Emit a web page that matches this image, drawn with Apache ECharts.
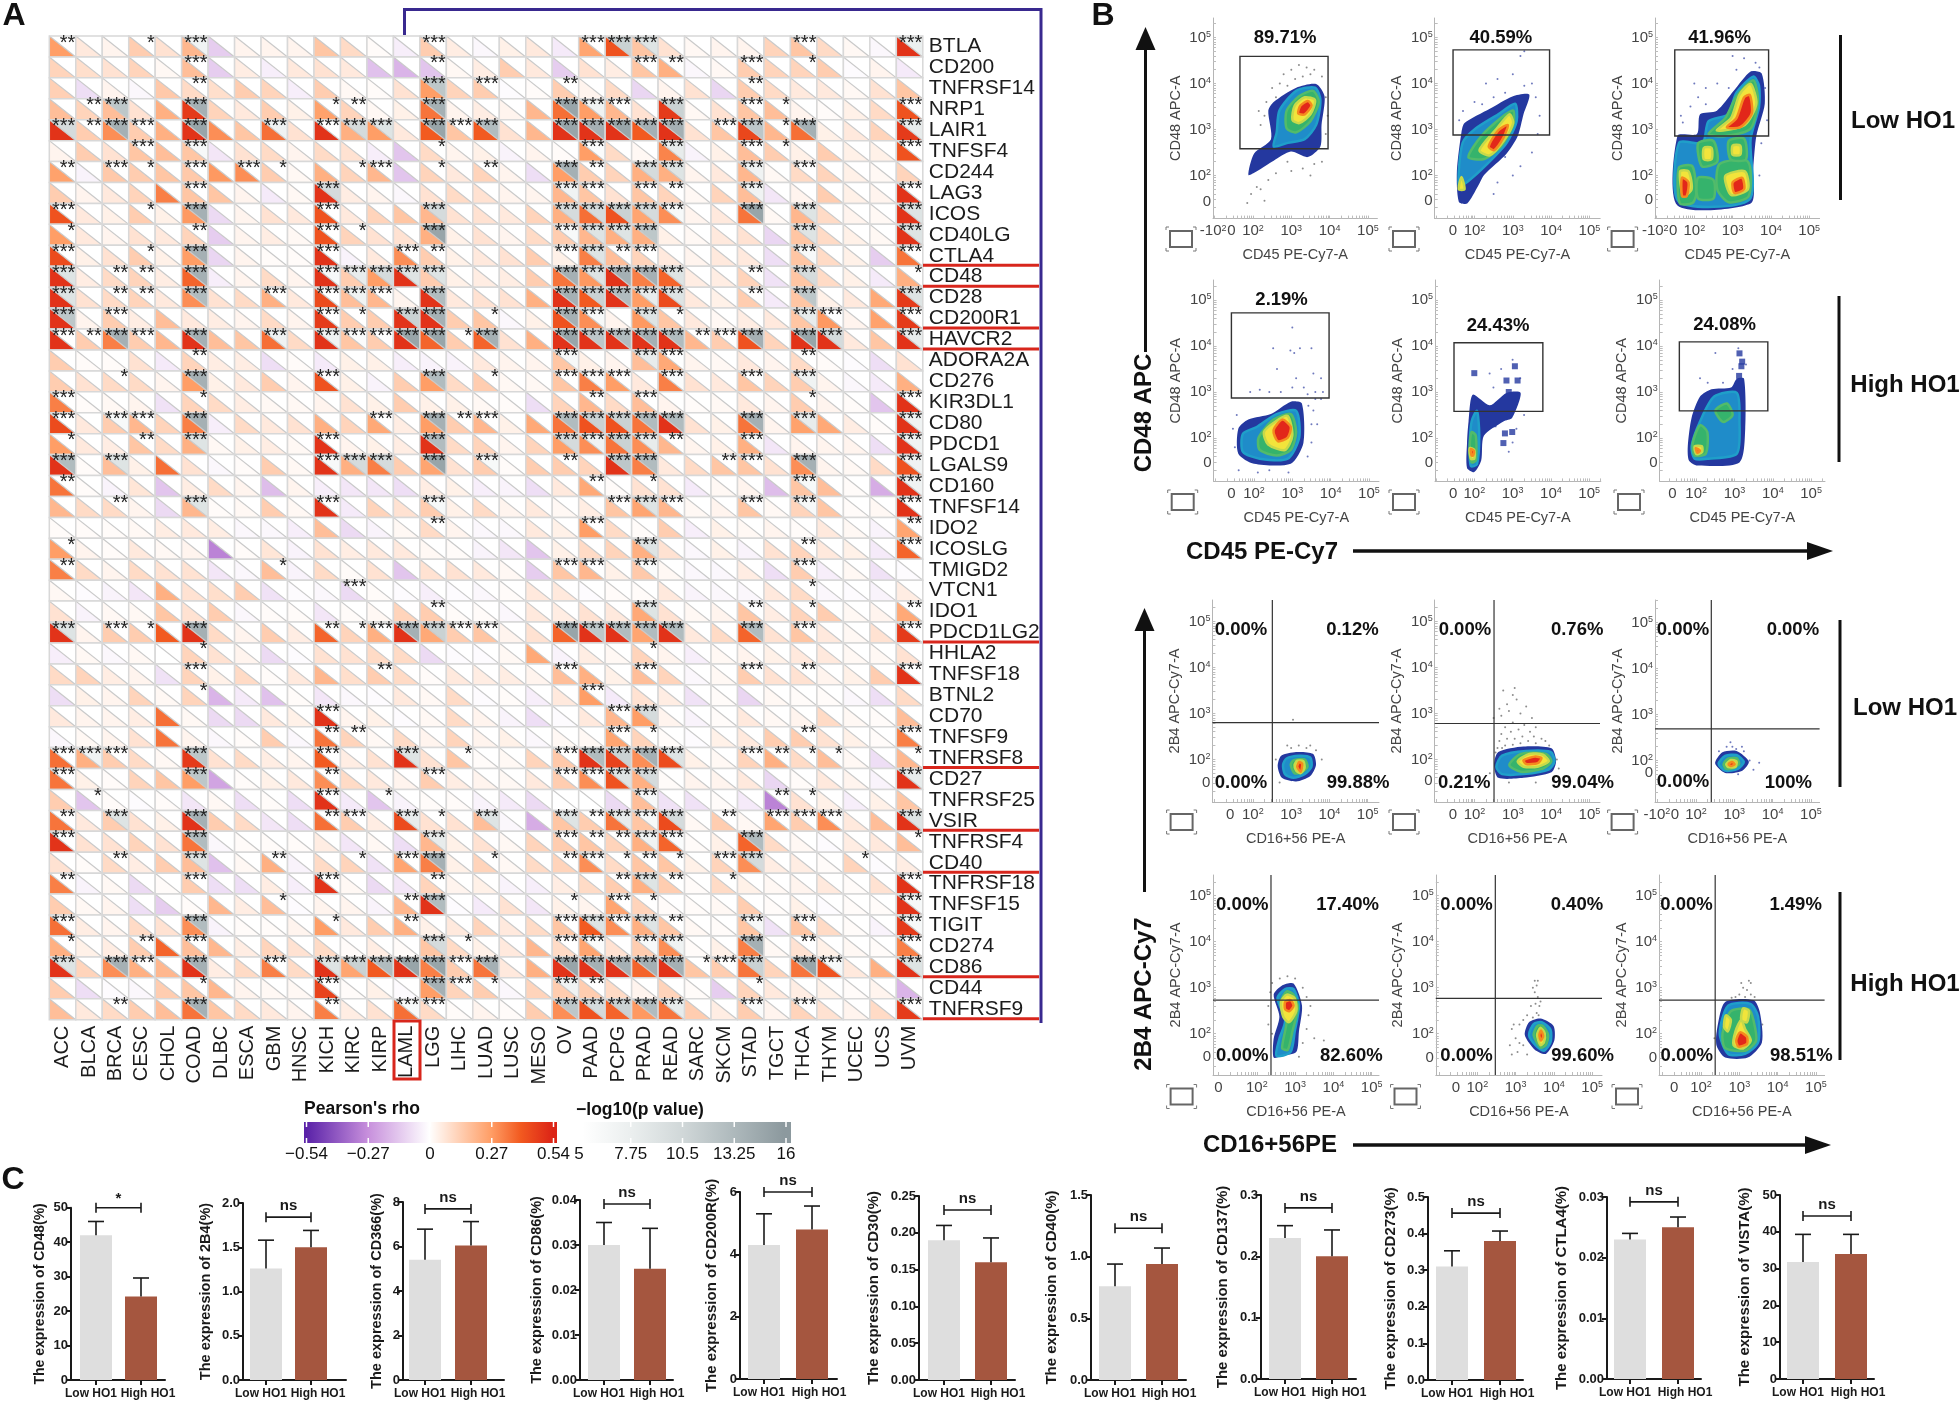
<!DOCTYPE html>
<html><head><meta charset="utf-8">
<style>html,body{margin:0;padding:0;background:#fff}#c{width:1960px;height:1403px}</style>
<script src="https://cdn.jsdelivr.net/npm/echarts@6/dist/echarts.min.js"></script>
</head><body><div id="c"></div>
<script>
/* ---------- Panel A data ---------- */
const tumours=['ACC','BLCA','BRCA','CESC','CHOL','COAD','DLBC','ESCA','GBM','HNSC','KICH','KIRC','KIRP','LAML','LGG','LIHC','LUAD','LUSC','MESO','OV','PAAD','PCPG','PRAD','READ','SARC','SKCM','STAD','TGCT','THCA','THYM','UCEC','UCS','UVM'];
const genes=['BTLA','CD200','TNFRSF14','NRP1','LAIR1','TNFSF4','CD244','LAG3','ICOS','CD40LG','CTLA4','CD48','CD28','CD200R1','HAVCR2','ADORA2A','CD276','KIR3DL1','CD80','PDCD1','LGALS9','CD160','TNFSF14','IDO2','ICOSLG','TMIGD2','VTCN1','IDO1','PDCD1LG2','HHLA2','TNFSF18','BTNL2','CD70','TNFSF9','TNFRSF8','CD27','TNFRSF25','VSIR','TNFRSF4','CD40','TNFRSF18','TNFSF15','TIGIT','CD274','CD86','CD44','TNFRSF9'];
// Pearson's rho x100, one row per gene
const rhoRows=[
[27,6,3,14,8,20,-12,3,3,3,16,10,1,-4,14,5,-2,4,6,-5,25,42,16,8,2,3,3,12,16,10,2,-2,50],
[12,9,8,12,2,18,-12,5,-4,6,8,6,-15,-18,-14,2,5,14,6,-12,8,5,16,22,-2,2,14,12,12,14,-1,3,-5],
[13,-8,3,-2,15,10,9,14,12,-4,14,2,1,8,27,12,14,-1,1,14,3,10,-10,3,8,-10,14,10,6,6,2,8,16],
[18,12,18,8,22,48,12,6,14,4,26,12,2,4,35,3,5,3,20,36,27,20,8,48,2,8,16,18,3,1,4,10,42],
[50,14,30,14,22,50,30,16,36,8,50,22,27,6,40,16,40,8,20,50,50,50,40,50,8,16,45,20,36,4,6,12,48],
[3,14,8,16,18,16,-6,8,10,3,10,8,-4,-14,10,3,4,-3,3,1,27,10,2,32,-3,4,18,14,4,14,4,4,42],
[26,-3,15,14,16,15,28,30,14,2,22,12,20,-14,12,6,12,3,-8,27,14,12,22,22,3,6,20,2,10,12,4,2,12],
[14,3,6,12,33,16,16,3,-5,2,50,5,3,-2,8,10,8,3,3,20,16,8,16,12,2,12,18,-6,3,14,4,3,50],
[42,6,4,14,4,28,-9,3,8,6,42,6,12,16,20,8,8,6,12,22,36,42,25,30,3,6,35,2,20,10,3,2,50],
[27,6,3,8,6,12,-12,3,5,2,42,12,8,8,22,4,8,3,10,14,20,22,22,4,2,6,8,-10,16,10,4,2,50],
[44,4,8,14,4,27,-10,3,1,1,50,-3,6,30,14,4,6,8,14,4,33,18,12,6,3,6,6,-8,16,10,4,-12,35],
[50,5,10,12,5,38,-4,3,10,3,50,14,27,50,14,4,5,5,14,35,28,50,33,38,5,5,12,-7,16,10,4,-5,22],
[50,8,10,12,6,30,8,10,22,6,44,18,20,3,50,6,8,8,22,50,40,50,27,44,6,4,14,-5,16,4,6,24,48],
[50,3,14,5,18,6,5,3,10,3,48,14,14,50,50,14,16,-2,4,42,30,3,28,16,6,2,5,6,16,28,3,26,48],
[50,14,33,14,20,50,18,16,36,10,50,16,14,50,38,14,38,8,22,50,50,50,50,50,20,14,42,12,50,50,6,16,50],
[14,1,1,8,-5,12,5,5,-8,1,-5,4,4,-4,-3,-3,6,3,3,16,4,3,18,24,3,2,6,3,10,1,-1,-8,8],
[14,8,10,10,3,27,4,6,14,3,42,4,-3,14,27,10,14,2,2,16,33,27,6,33,8,6,16,12,14,3,-2,-5,22],
[33,1,2,3,-7,12,10,5,2,2,3,8,4,14,4,4,2,1,-8,12,20,10,18,3,1,2,6,3,14,3,1,-14,50],
[44,6,14,20,12,33,-4,10,6,8,22,12,24,5,27,14,20,4,24,35,42,42,35,50,8,4,35,3,26,24,5,1,50],
[27,6,5,16,10,22,2,4,5,2,50,3,4,5,50,10,12,3,12,27,30,35,30,20,3,4,22,-6,3,3,3,-8,50],
[50,1,18,4,36,8,-2,1,14,2,50,22,33,14,25,8,14,1,14,14,12,50,33,6,10,16,16,8,30,3,2,10,42],
[35,1,-3,7,-14,5,10,3,-16,3,-4,-6,-6,-8,5,4,-4,-3,-8,6,24,1,8,8,-5,2,3,-16,16,18,1,-20,50],
[20,10,10,3,-9,20,1,2,14,2,50,-5,12,8,14,4,10,3,6,2,5,16,25,20,2,3,16,2,12,16,1,2,50],
[1,1,1,2,5,6,5,-2,-2,-4,18,-9,-3,2,10,3,-2,-2,6,4,27,10,1,14,-4,4,2,3,1,6,2,-3,25],
[27,3,1,6,2,3,-30,1,7,-3,8,5,6,6,2,1,-3,-6,-14,4,10,12,22,8,-2,4,-3,8,12,6,4,-5,38],
[33,10,3,10,8,8,-6,-2,18,-3,10,1,8,-14,8,8,6,2,-12,16,20,4,15,2,-2,-2,5,-8,14,-4,2,-7,-1],
[2,-1,-3,-6,22,8,9,14,-7,-1,-2,-9,1,-1,-4,-1,-2,1,6,6,-1,1,1,6,-3,-2,-2,6,10,-2,-1,-3,5],
[8,-3,2,2,16,8,14,-2,1,1,-6,1,2,12,14,1,1,-2,6,5,8,6,24,8,2,3,16,5,12,14,2,3,24],
[50,3,14,14,40,50,10,3,14,5,38,12,22,50,24,14,16,3,8,38,50,50,25,50,6,10,38,8,16,6,2,8,48],
[-4,2,-2,2,0,12,8,3,-9,-1,8,8,10,10,-9,-1,-1,2,24,-3,5,2,12,3,-4,2,3,4,6,6,2,2,8],
[10,12,5,3,-7,12,4,10,1,6,20,9,14,10,1,6,5,5,3,18,22,4,18,12,-2,2,14,8,8,3,4,14,50],
[-8,4,3,12,2,12,-18,-5,-15,1,-6,-2,-1,6,2,10,-1,1,-4,6,27,-5,8,5,-7,1,-10,2,1,1,-2,-8,10],
[6,3,3,5,36,2,-9,-9,6,4,50,3,4,-1,2,10,3,-3,-8,-1,6,20,27,3,-3,1,6,2,3,10,2,1,18],
[-2,2,3,8,35,3,-2,1,14,-2,35,12,2,10,3,12,3,4,-2,2,2,25,12,1,-1,4,6,14,14,8,4,1,33],
[36,22,14,10,2,48,8,10,5,3,40,5,8,50,8,16,1,2,12,15,50,46,30,44,4,2,12,22,10,18,2,-8,20],
[35,4,1,12,16,27,-22,1,4,6,30,10,6,3,14,5,3,2,6,14,30,42,22,1,3,3,6,-10,1,6,3,-3,50],
[14,-14,1,-1,1,-6,2,-8,1,-8,50,-5,-14,-3,1,1,-3,-5,-9,0,0,-9,18,-7,-7,1,-5,-30,8,4,-4,4,16],
[35,6,14,8,4,50,14,10,-6,-8,36,14,5,44,8,8,18,-2,-20,16,14,35,16,44,2,14,2,25,14,30,6,18,50],
[50,8,8,12,8,35,-2,1,1,1,5,-6,2,-8,20,4,8,2,12,14,16,12,22,38,1,4,38,10,2,-1,5,6,18],
[8,1,10,5,14,18,-15,2,22,-3,10,12,-7,25,33,4,12,2,10,12,30,10,16,16,4,12,30,5,5,1,12,-1,5],
[33,-3,2,-9,1,14,-8,-8,5,-4,50,2,-9,-6,12,3,4,-3,-4,5,10,14,22,14,1,10,4,2,3,6,1,8,50],
[14,2,3,-8,-12,1,20,5,18,-1,3,3,-3,20,50,-1,-5,8,-6,4,3,25,12,1,1,2,14,1,4,-1,1,1,50],
[36,5,3,10,8,30,-3,1,1,3,27,6,14,22,4,6,12,6,10,16,40,30,22,16,2,1,16,-7,16,10,1,-3,48],
[22,4,5,14,38,18,20,5,12,8,10,1,5,1,16,10,4,6,20,10,25,8,14,30,1,4,33,2,8,4,2,1,33],
[50,12,30,22,20,50,5,10,33,10,50,25,40,50,33,14,35,6,22,50,50,50,38,50,16,14,35,12,35,42,6,22,50],
[14,-8,-1,-2,14,16,20,3,2,2,46,1,4,-1,27,12,14,-2,12,14,14,10,3,12,1,-12,12,6,5,4,1,3,-18],
[18,6,10,14,18,35,16,10,6,3,33,5,8,36,10,1,3,1,14,30,42,38,28,35,14,5,14,3,12,8,3,10,48]
];
// -log10(p): column index -> value, only where p<0.05
const logPRows=[
{0:2,3:1.5,5:7,14:4,20:3,21:11,22:9,28:3,32:7.5},
{5:3,14:2,22:3,23:2,26:3,28:1.5},
{5:2,14:12,16:3,19:2,26:2},
{1:2,2:12,5:14,10:1.5,11:2,14:14,19:15,20:7,21:3,23:11,26:3,27:1.5,32:3},
{0:10,1:2,2:14,3:3,5:15,8:7,10:4,11:10,12:9,14:15,15:3,16:13,19:15,20:14,21:15,22:14,23:14,25:3,26:12,27:1.5,28:14,32:8},
{3:3,5:6,14:1.5,20:5.5,23:8,26:3,27:1.5,32:3},
{0:2,2:3,3:1.5,5:5,7:3,8:1.5,11:1.5,12:3,14:1.5,16:2,19:14,20:2,22:10,23:9,26:7,28:3},
{5:3,10:10,19:7,20:3,22:3,23:2,26:7,32:3},
{0:3,3:1.5,5:14,10:3,14:10,19:10,20:10,21:11,22:10,23:6,26:15,28:9,32:9},
{0:1.5,5:2,10:3,11:1.5,14:15,19:6,20:9,21:9,22:12,28:9,32:9},
{0:3,3:1.5,5:14,10:3,13:3,14:2,19:4,20:9,21:2,22:5,28:6,32:3},
{0:9,2:2,3:2,5:14,10:6,11:8,12:10,13:9,14:9,19:14,20:9,21:14,22:14,23:9,26:2,28:10,32:1.5},
{0:9,2:2,3:2,5:13,8:3,10:5,11:7,12:3,14:13,19:14,20:11,21:13,22:8,23:9,26:2,28:12,32:9},
{0:12,2:3,10:3,11:1.5,13:11,14:14,16:1.5,19:14,20:6,22:9,23:1.5,28:8,29:3,32:5},
{0:5,1:2,2:14,3:3,5:14,8:7,10:7,11:5.5,12:4,13:15,14:15,15:1.5,16:14,19:15,20:12,21:13,22:14,23:13,24:2,25:3,26:14,28:15,29:10,32:8},
{5:2,19:6,22:8,23:3,28:2},
{2:1.5,5:14,10:3,14:13,16:1.5,19:3,20:5.5,21:3,23:5.5,26:3,28:7},
{0:3,5:1.5,20:2,22:3,28:1.5,32:5},
{0:3,2:6,3:3,5:14,12:3,14:14,15:2,16:3,19:13,20:11,21:11,22:13,23:13,26:14,28:8,32:7},
{0:1.5,3:2,5:9,10:5,14:13,19:10,20:7,21:11,22:8,23:2,26:5.5,32:7},
{0:13,2:9,10:6,11:10,12:10,14:15,16:6,19:2,21:12,22:13,25:2,26:3,28:14,32:7},
{0:2,20:2,22:1.5,28:6,32:7},
{2:2,5:9,10:3,14:6,21:3,22:9,23:3,26:5,28:6,32:5},
{14:2,20:3,32:2},
{0:1.5,22:9,28:2,32:3},
{0:2,8:1.5,19:3,20:3,22:5.5,28:3},
{11:3,28:1.5},
{14:2,22:9,26:2,28:1.5,32:2},
{0:9,2:3,3:1.5,5:14,10:2,11:1.5,12:3,13:14,14:11,15:3,16:4,19:15,20:12,21:13,22:13,23:13,26:13,28:3,32:5},
{5:1.5,22:1.5},
{5:3,12:2,19:3,22:3,26:3,28:2,32:5},
{5:1.5,20:3},
{10:3,21:3,22:10},
{10:2,11:2,21:3,22:1.5,28:2,32:3},
{0:3,1:7,2:3,5:12,10:3,13:9,15:1.5,19:3,20:13,21:11,22:14,23:9,26:3,27:2,28:1.5,29:1.5,32:1.5},
{0:3,5:12,10:2,14:4,19:3,20:5.5,21:9,22:10,32:8},
{1:1.5,10:3,12:1.5,22:6,27:2,28:1.5},
{0:2,2:9,5:14,10:2,11:3,13:8,14:1.5,16:9,19:9,20:2,21:8,22:6,23:10,25:2,27:3,28:3,29:3,32:9},
{0:3,5:13,14:8,19:3,20:2,21:2,22:7,23:5.5,26:13,32:1.5},
{2:2,5:9,8:2,11:1.5,13:3,14:14,16:1.5,19:2,20:5.5,21:1.5,22:2,23:1.5,25:3,26:10,30:1.5},
{0:2,5:3,10:5,14:2,21:2,22:9,23:2,25:1.5,32:5},
{8:1.5,13:2,14:13,19:1.5,21:3,22:1.5,32:6},
{0:3,5:13,10:1.5,13:2,19:3,20:9,21:4,22:9,23:2,26:6,28:3,32:6},
{0:1.5,3:2,5:5,14:10,15:1.5,19:3,20:5.5,22:6,23:7,26:14,28:2,32:3},
{0:9,2:14,3:3,5:14,8:3,10:9,11:11,12:13,13:15,14:15,15:3,16:14,19:15,20:14,21:14,22:14,23:14,24:1.5,25:3,26:11,28:15,29:6,32:9},
{5:1.5,10:3,14:14,15:3,16:1.5,19:7,20:2,26:1.5},
{2:2,5:14,10:2,13:6,14:3,19:12,20:10,21:11,22:13,23:8,26:5.5,28:4,32:3}
];
const highlightedRowEdges=[11,12,14,15,29,35,38,40,45,47];
const rhoTicks=[-0.54,-0.27,0,0.27,0.54];
const pTicks=[5,7.75,10.5,13.25,16];

/* ---------- Panel B data (axis units: decades of fluorescence) ---------- */
const bXTitle=['CD45 PE-Cy7-A','CD16+56 PE-A'];
const bYTitle=['CD48 APC-A','2B4 APC-Cy7-A'];
const bXZero=[1.44,1.44,1.45,1.41,1.45,1.38,1.41,1.44,1.45,1.0,1.44,1.3];
const bXNeg=[0.96,null,0.98,null,0.97,1.05,null,null,0.98,null,null,null];
const bYZero=[1.42,1.45,1.46,1.47,1.45,1.45,1.49,1.53,1.74,1.49,1.48,1.47];
const bYNeg=[null,null,null,null,null,null,null,null,1.46,null,null,null];
const bXMin=[0.956,0.961,0.974,0.945,0.974,1.047,0.945,0.961,0.93,0.856,0.916,0.903];
const bYMax=[5.424,5.424,5.424,5.435,5.435,5.435,5.465,5.465,5.49,5.45,5.45,5.45];
const gateBoxes=[[1.66,3.96,2.58,4.59],[1.44,3.96,2.88,4.73],[1.49,3.94,2.86,4.73],[1.41,3.96,2.87,4.72],[1.47,3.79,2.58,4.07],[1.56,3.87,2.59,4.09]];
const quadrantCross=[[2.51,2.80],[2.51,2.78],[2.40,2.69],[2.37,2.73],[2.47,2.77],[2.37,2.73]];
const percentLabels=[
[[2.84,5,'89.71%']],[[2.69,5,'40.59%']],[[2.66,5,'41.96%']],
[[2.72,5,'2.19%']],[[2.62,4.43,'24.43%']],[[2.74,4.45,'24.08%']],
[[1.69,4.81,'0.00%'],[4.6,4.81,'0.12%'],[1.69,1.49,'0.00%'],[4.75,1.49,'99.88%']],
[[1.75,4.81,'0.00%'],[4.68,4.81,'0.76%'],[1.73,1.49,'0.21%'],[4.82,1.49,'99.04%']],
[[1.66,4.84,'0.00%'],[4.53,4.84,'0.00%'],[1.66,1.53,'0.00%'],[4.41,1.52,'100%']],
[[1.62,4.81,'0.00%'],[4.37,4.81,'17.40%'],[1.62,1.51,'0.00%'],[4.47,1.51,'82.60%']],
[[1.72,4.81,'0.00%'],[4.6,4.81,'0.40%'],[1.72,1.51,'0.00%'],[4.75,1.51,'99.60%']],
[[1.62,4.81,'0.00%'],[4.47,4.81,'1.49%'],[1.63,1.51,'0.00%'],[4.62,1.51,'98.51%']]
];
// density contours: [level, [x,y, x,y, ...]]
const blobP1=[[0,[1.88,2.01,2.03,2.48,2.47,2.79,2.40,3.41,2.54,3.60,3.13,3.91,3.65,3.99,3.87,3.72,3.79,3.10,3.76,2.63,3.43,2.40,2.99,2.52,2.54,2.32,2.1,2.09]],[1,[2.54,2.63,2.62,2.94,2.69,3.41,3.13,3.84,3.62,3.91,3.76,3.64,3.65,3.10,3.35,2.79,2.91,2.71]],[2,[2.88,3.02,2.88,3.41,3.21,3.73,3.57,3.84,3.72,3.60,3.5,3.18,3.13,2.94]],[3,[3.03,3.21,3.09,3.52,3.35,3.70,3.62,3.64,3.5,3.33,3.21,3.14]],[4,[3.18,3.35,3.24,3.52,3.43,3.62,3.53,3.52,3.35,3.33]]];
const blobP2=[[0,[1.59,1.43,1.54,2.09,1.66,2.94,1.74,3.14,2.40,3.45,2.99,3.72,3.43,3.76,3.28,3.33,3.13,2.86,2.84,2.48,2.25,2.01,2.10,1.78,1.81,1.39]],[1,[1.59,1.78,1.69,2.71,2.03,3.02,2.62,3.33,3.06,3.56,3.10,3.18,2.84,2.71,2.32,2.24,1.81,1.86]],[2,[1.84,2.40,2.18,2.86,2.69,3.25,3.01,3.41,3.01,3.10,2.69,2.63,2.25,2.36]],[3,[2.13,2.55,2.54,2.98,2.91,3.33,3.01,3.14,2.76,2.75,2.40,2.44]],[3,[1.59,1.70,1.66,1.97,1.74,1.70]],[4,[2.37,2.63,2.62,2.98,2.87,3.10,2.76,2.83,2.51,2.55]]];
const blobP3=[[0,[1.56,1.35,1.56,2.86,2.07,2.90,2.15,3.33,2.59,3.41,3.03,3.84,3.47,4.26,3.76,4.22,3.84,3.56,3.62,2.86,3.54,2.17,3.47,1.39]],[1,[1.60,1.43,1.60,2.71,2.22,2.71,2.37,3.18,2.88,3.33,3.10,3.80,3.54,4.15,3.69,3.95,3.69,3.49,3.47,2.79,3.43,1.47]],[2,[1.6,2.17,1.95,2.2,2.05,1.6,1.95,1.4,1.62,1.4]],[2,[2.66,2.25,3.4,2.3,3.42,1.55,2.9,1.42,2.6,1.7]],[2,[2.37,2.90,2.81,3.25,3.10,3.72,3.54,4.07,3.66,3.64,3.47,3.02,2.81,2.86]],[2,[2.1,2.7,2.5,2.75,2.6,2.3,2.2,2.2]],[2,[2.9,2.75,3.3,2.8,3.35,2.35,2.95,2.35]],[2,[2.1,1.95,2.5,1.9,2.5,1.5,2.1,1.5]],[3,[1.63,2.09,1.85,2.09,1.93,1.70,1.71,1.55]],[3,[2.81,1.99,3.32,2.09,3.40,1.70,2.96,1.58]],[3,[2.59,2.98,2.96,3.25,3.18,3.76,3.47,3.99,3.62,3.56,3.32,3.10]],[3,[2.25,2.6,2.45,2.6,2.45,2.35,2.25,2.35]],[3,[3.0,2.65,3.2,2.65,3.2,2.45,3.0,2.45]],[4,[1.68,1.95,1.85,1.85,1.8,1.55,1.68,1.55]],[4,[3.0,1.85,3.25,1.95,3.3,1.7,3.05,1.62]],[4,[2.85,3.05,3.1,3.25,3.3,3.7,3.45,3.75,3.5,3.35,3.2,3.05]]];
const blobP4=[[0,[1.59,2.20,1.59,1.66,2.0,1.44,2.96,1.44,3.29,1.89,3.25,2.75,2.96,2.79,2.44,2.52,1.85,2.40]],[1,[1.71,2.09,1.71,1.70,2.15,1.55,2.88,1.55,3.18,2.01,3.10,2.59,2.59,2.52,2.07,2.24]],[2,[2.12,2.01,2.15,1.74,2.59,1.62,2.96,1.74,3.10,2.13,2.96,2.52,2.51,2.40]],[3,[2.26,2.13,2.37,1.86,2.81,1.74,3.0,2.05,2.88,2.48,2.56,2.36]],[4,[2.51,2.17,2.62,1.93,2.88,2.01,2.96,2.24,2.74,2.40]]];
const blobP5=[[0,[1.81,1.89,1.81,1.35,2.0,1.26,2.18,1.51,2.25,2.05,2.76,2.36,2.99,2.44,3.21,2.98,2.84,2.98,2.40,2.71,1.96,2.94,1.85,2.36]],[1,[1.88,1.81,1.91,1.39,2.07,1.43,2.13,2.05,2.07,2.59,1.93,2.36]],[2,[1.88,1.74,1.93,1.47,2.04,1.51,2.04,2.05,1.93,2.13]],[3,[1.88,1.78,2.0,1.74,2.0,1.55,1.91,1.55]],[4,[1.91,1.76,1.99,1.72,1.97,1.62,1.93,1.62]]];
const blobP6=[[0,[1.78,1.82,1.81,1.51,2.03,1.40,3.13,1.47,3.28,2.20,3.25,3.29,3.06,3.29,2.91,3.10,2.40,3.06,2.10,2.90,1.88,2.44]],[1,[1.88,1.82,1.96,1.55,2.32,1.55,3.06,1.66,3.13,2.36,3.06,2.98,2.47,2.90,2.10,2.36]],[2,[1.91,1.89,1.96,1.62,2.25,1.66,2.29,2.13,2.10,2.28]],[2,[2.5,2.6,2.8,2.75,2.95,2.5,2.7,2.35]],[3,[1.96,1.82,2.0,1.65,2.15,1.69,2.15,1.82]],[4,[1.99,1.78,2.03,1.68,2.10,1.72]]];
const blobP7=[[0,[2.65,1.85,2.74,2.08,3.13,2.16,3.57,2.12,3.65,1.88,3.5,1.64,3.13,1.52,2.76,1.60]],[1,[2.79,1.88,2.88,2.02,3.21,2.08,3.5,2.04,3.53,1.84,3.35,1.68,3.06,1.60,2.84,1.68]],[2,[2.99,1.88,3.06,1.98,3.35,2.0,3.43,1.84,3.28,1.72,3.09,1.70]],[3,[3.09,1.88,3.16,1.97,3.32,1.96,3.35,1.81,3.24,1.70,3.13,1.76]],[4,[3.16,1.84,3.21,1.94,3.29,1.90,3.25,1.73]]];
const blobP8=[[0,[2.51,1.88,2.62,2.16,3.28,2.28,4.01,2.24,4.13,1.96,4.01,1.72,3.28,1.60,2.62,1.60]],[1,[2.57,1.84,2.72,2.08,3.35,2.18,3.99,2.16,4.09,1.96,3.94,1.78,3.28,1.68,2.72,1.68]],[2,[2.91,1.88,3.21,2.12,3.87,2.12,4.01,1.96,3.79,1.80,3.21,1.73]],[3,[3.13,1.96,3.43,2.12,3.79,2.10,3.94,1.96,3.65,1.84,3.28,1.84]],[4,[3.28,1.98,3.57,2.06,3.75,2.03,3.65,1.92,3.35,1.90]]];
const blobP9=[[0,[2.50,1.94,2.69,2.18,3.06,2.21,3.38,1.98,3.21,1.78,2.76,1.73]],[1,[2.59,1.93,2.76,2.10,3.06,2.12,3.25,1.97,3.09,1.82,2.76,1.78]],[2,[2.72,1.92,2.84,2.04,3.06,2.05,3.13,1.93,2.99,1.84,2.79,1.82]],[3,[2.79,1.92,2.91,2.01,3.06,1.98,3.03,1.86,2.84,1.86]],[4,[2.85,1.92,2.94,1.97,3.01,1.92,2.91,1.88]]];
const blobP10=[[0,[2.44,1.48,2.44,1.89,2.59,2.37,2.44,2.85,2.66,3.05,2.96,3.09,3.18,2.61,3.10,2.05,3.03,1.60,2.66,1.52]],[1,[2.51,1.52,2.59,1.89,2.74,2.29,2.54,2.77,2.74,2.97,2.96,2.97,3.10,2.61,2.99,2.05,2.88,1.60]],[2,[2.66,1.69,2.78,2.29,2.63,2.69,2.78,2.92,2.96,2.85,3.07,2.57,2.93,2.05,2.81,1.65]],[3,[2.69,2.37,2.63,2.69,2.78,2.85,2.99,2.77,3.03,2.49,2.84,2.25]],[4,[2.74,2.53,2.74,2.69,2.88,2.73,2.96,2.61,2.85,2.49]]];
const blobP11=[[0,[3.24,1.97,3.35,2.25,3.65,2.33,3.99,2.17,4.01,1.85,3.79,1.56,3.50,1.65]],[1,[3.35,1.97,3.47,2.21,3.68,2.25,3.91,2.09,3.91,1.81,3.74,1.63,3.53,1.74]],[2,[3.47,1.97,3.57,2.17,3.71,2.17,3.85,1.97,3.79,1.75,3.65,1.70]],[3,[3.56,1.97,3.65,2.13,3.76,2.01,3.74,1.81,3.65,1.75]],[4,[3.62,1.97,3.66,2.07,3.72,1.95,3.66,1.85]]];
const blobP12=[[0,[2.41,2.05,2.63,2.69,3.37,2.73,3.54,2.45,3.59,1.81,3.22,1.48,2.63,1.48,2.41,1.73]],[1,[2.49,2.01,2.71,2.61,3.29,2.65,3.49,2.37,3.49,1.81,3.15,1.56,2.71,1.56]],[2,[2.56,2.01,2.78,2.49,3.25,2.53,3.37,2.29,3.44,1.85,3.15,1.63,2.63,1.69]],[3,[2.85,1.75,2.9,2.05,3.05,2.3,3.15,2.1,3.3,1.85,3.1,1.68]],[3,[3.05,2.3,3.1,2.55,3.25,2.5,3.2,2.25]],[3,[2.6,2.15,2.65,2.4,2.78,2.3,2.7,2.05]],[4,[2.92,1.85,3.02,2.03,3.2,1.93,3.2,1.78,2.98,1.72]]];
const blobsByPanel=[blobP1,blobP2,blobP3,blobP4,blobP5,blobP6,blobP7,blobP8,blobP9,blobP10,blobP11,blobP12];
// sparse events outside the density contours
const dotsP1=[[2.5,3.9],[2.7,4.0],[3.0,4.3],[3.2,4.4],[3.4,4.35],[3.5,4.2],[3.1,4.1],[2.9,3.95],[2.6,3.7],[2.35,3.6],[2.3,3.3],[2.2,3.1],[2.45,3.25],[3.3,4.15],[3.8,4.15],[3.9,3.7],[3.95,3.3],[3.9,2.9],[3.8,2.3],[3.6,2.25],[3.3,2.15],[2.9,2.3],[2.6,2.05],[2.4,1.9],[2.1,1.75],[1.95,1.6],[1.85,1.4],[2.3,1.45],[2.2,1.7],[3.0,2.1],[3.5,2.0],[2.8,4.2],[3.6,4.3],[2.15,3.4]];
const dotsP2=[[3.2,4.6],[3.0,4.2],[2.6,4.1],[2.3,4.0],[2.5,3.7],[2.2,3.55],[2.8,3.8],[3.3,3.95],[3.5,4.0],[3.6,3.7],[3.7,3.3],[3.65,2.9],[3.5,2.5],[3.2,2.2],[3.0,2.0],[2.6,1.85],[2.5,1.6],[2.8,2.4],[1.6,3.2],[1.7,3.4],[2.0,3.6],[3.3,4.7]];
const dotsP3=[[2.0,4.0],[2.3,3.9],[2.6,4.0],[3.0,4.6],[3.1,4.3],[3.3,4.55],[3.6,4.45],[3.7,4.35],[2.9,3.9],[1.9,3.5],[2.1,3.7],[3.85,3.9],[3.9,3.2],[3.75,2.7],[3.7,2.0],[1.7,3.15],[1.65,3.3],[2.3,3.55]];
const dotsP4=[[3.0,4.4],[2.5,3.95],[2.6,3.5],[3.2,3.95],[3.55,3.4],[2.95,3.9],[3.05,3.85],[3.5,3.95],[3.75,3.3],[3.8,3.0],[3.6,3.0],[3.3,3.1],[3.0,3.1],[2.7,3.0],[2.4,3.0],[2.15,3.05],[1.9,3.0],[3.4,2.95],[3.6,2.85],[3.75,2.85],[3.1,3.3],[3.55,2.6],[3.65,2.3],[1.55,2.5],[1.45,2.2],[1.6,1.3],[2.1,1.25],[2.9,1.25],[3.4,1.6],[3.5,1.9],[3.42,2.7],[3.5,2.3],[1.5,1.8],[2.4,1.3]];
const dotsP5=[[3.0,3.7],[2.7,3.5],[2.4,3.4],[3.2,3.3],[2.5,3.1],[3.3,2.5],[3.1,2.2],[3.0,1.9],[2.9,1.7]];
const dotsP6=[[3.1,3.95],[2.5,3.85],[2.1,3.3],[2.7,3.2],[2.95,3.5],[3.3,3.6],[2.3,3.2]];
const dotsP7=[[3.05,2.86],[2.9,2.3],[3.0,2.25],[3.5,2.3],[3.65,2.2],[3.8,2.0],[2.6,2.0],[3.4,2.25],[3.2,2.3],[2.7,1.5]];
const dotsP8=[[2.75,3.5],[3.05,3.55],[2.85,3.2],[3.1,3.3],[2.9,3.05],[3.2,3.0],[3.5,2.9],[2.7,2.95],[3.0,2.8],[3.3,2.75],[3.6,2.7],[2.8,2.7],[3.15,2.65],[3.45,2.6],[2.7,2.55],[2.95,2.6],[3.25,2.5],[3.55,2.5],[3.75,2.45],[2.65,2.4],[2.85,2.45],[3.05,2.45],[3.4,2.4],[3.85,2.4],[2.6,2.25],[2.8,2.3],[3.0,2.32],[3.2,2.35],[3.6,2.35],[3.95,2.3],[2.55,2.15],[2.72,2.25],[2.5,2.9],[3.35,3.15],[3.0,3.4],[2.65,3.1],[4.15,2.0],[4.2,1.8],[2.4,1.7],[2.9,1.5],[3.6,1.5]];
const dotsP9=[[2.8,2.3],[2.95,2.3],[3.05,2.25],[3.25,2.2],[3.4,2.0],[3.65,1.95],[3.5,1.8],[2.6,2.2],[3.2,2.3],[2.9,2.4],[3.1,1.7]];
const dotsP10=[[2.4,3.1],[2.6,3.2],[3.0,3.2],[3.2,3.0],[3.3,2.8],[3.35,2.4],[3.3,2.1],[3.2,1.8],[2.3,2.6],[2.3,2.2],[2.4,2.0],[3.1,1.5],[3.4,2.6],[2.8,3.25],[3.5,1.9],[3.75,1.85],[2.35,2.9]];
const dotsP11=[[3.45,3.0],[3.5,2.9],[3.55,3.05],[3.58,2.8],[3.52,2.65],[3.62,2.6],[3.55,2.45],[3.6,2.4],[3.5,3.15],[3.58,3.15],[3.0,1.9],[2.9,2.1],[3.1,2.2],[2.85,1.75],[3.05,1.6],[3.2,2.3],[3.3,2.4],[3.4,2.6],[3.45,2.35],[3.65,2.7],[3.1,1.8],[3.2,1.75],[2.95,2.2],[3.3,1.55],[2.9,1.55]];
const dotsP12=[[3.1,3.0],[3.2,2.95],[3.3,3.1],[3.0,2.85],[3.3,2.85],[3.15,2.8],[2.9,2.8],[3.25,3.15],[3.05,3.1],[3.4,2.8],[2.8,2.78],[3.6,2.2],[2.35,1.9]];
const dotsByPanel=[dotsP1,dotsP2,dotsP3,dotsP4,dotsP5,dotsP6,dotsP7,dotsP8,dotsP9,dotsP10,dotsP11,dotsP12];
// isolated dense events shown as small navy blocks (panel index -> points)
const islandsP5=[[3.06,3.56],[3.13,3.25],[2.0,3.41],[2.84,3.25],[2.99,2.13],[2.76,1.89],[2.9,3.0],[2.5,2.3],[2.8,2.1]];
const islandsP6=[[3.13,3.84],[3.18,3.56],[3.2,3.66],[3.12,3.35]];

/* ---------- Panel C data ---------- */
const markerNames=['CD48','2B4','CD366','CD86','CD200R','CD30','CD40','CD137','CD273','CTLA4','VISTA'];
const lowMeans=[42,1.26,5.4,0.030,4.3,0.19,0.76,0.23,0.31,0.023,31.8];
const lowTops=[46,1.58,6.78,0.035,5.3,0.21,0.94,0.25,0.353,0.024,39.3];
const highMeans=[24.2,1.5,6.05,0.0247,4.8,0.16,0.94,0.20,0.38,0.025,34];
const highTops=[29.6,1.69,7.12,0.0337,5.55,0.193,1.07,0.243,0.407,0.0267,39.3];
const axisMaxima=[50,2,8,0.04,6,0.25,1.5,0.3,0.5,0.03,50];
const axisSteps=[10,0.5,2,0.01,2,0.05,0.5,0.1,0.1,0.01,10];
const axisDigits=[0,1,0,2,0,2,1,1,1,2,0];
const bracketLevels=[50,1.84,7.69,0.0391,6,0.231,1.23,0.279,0.456,0.0292,44.3];
const significance=['*','ns','ns','ns','ns','ns','ns','ns','ns','ns','ns'];

/* ---------- Layout ---------- */
const heat={left:49.3,top:36,width:873.5,height:983.7};
const bBoxes=[[1213,1377.4,18,218.6],[1434.7,1600.2,18,218.6],[1655,1819.6,18,218.6],
[1213.6,1379,280,481.4],[1435,1600.8,280,481.4],[1659.7,1825,280,481.4],
[1212.4,1379,600,802],[1434.7,1600,600,802],[1655,1819.6,600,802],
[1213,1379,875,1075],[1435.8,1602,875,1075],[1659,1824.6,875,1075]];
const iconCentres=[[1181,239],[1404,239],[1622.6,239],[1182.7,502],[1404,502],[1629,502],[1181.6,822],[1404,822],[1622.6,822],[1181.6,1096.5],[1405.5,1096.5],[1627,1096.5]];
const cAxisX=[71,243,403,580,740,919,1091,1261,1428,1607,1780];
const cEndX=[165,346,504,673,837,1015,1186,1356,1523,1701,1874];
const cTickLow=[96,266,425,604,764,944,1115,1285,1452,1630,1803];
const cTickHigh=[141,311,471,650,812,991,1162,1332,1500,1678,1851];
const cTop=[1207.7,1203,1202,1200,1192,1196,1195,1195,1197,1197,1195];
const cBottom=[1380,1380,1380,1380,1379,1380,1380,1379,1380,1379,1379];
const cNameGap=[24,30,19,36,21,38,32,31,30,38,28];
const cNameSize=[14,14.5,14.5,14.5,15,15,15,15,15,15,15];

const FONT='"Liberation Sans",Arial,sans-serif';
const grids=[],xAxes=[],yAxes=[],series=[],graphics=[];

/* ---------- Colours ---------- */
function hex(c){return [1,3,5].map(i=>parseInt(c.substr(i,2),16));}
function ramp(stops,v){
  if(v<=stops[0][0])return stops[0][1];
  for(let i=1;i<stops.length;i++){
    if(v<=stops[i][0]){
      const a=stops[i-1],b=stops[i],t=(v-a[0])/(b[0]-a[0]),p=hex(a[1]),q=hex(b[1]);
      return 'rgb('+p.map((x,k)=>Math.round(x+(q[k]-x)*t)).join(',')+')';
    }
  }
  return stops[stops.length-1][1];
}
const rhoStops=[[-54,'#5a22a8'],[-27,'#c78fdc'],[0,'#ffffff'],[27,'#ff9e66'],[40,'#f25a20'],[54,'#dc2416']];
const pStops=[[5,'#ffffff'],[7.75,'#eaeeee'],[10.5,'#d0d7d8'],[13.25,'#aeb9bc'],[16,'#8c999e']];
const starsFor=p=>p>=3?'***':p>=2?'**':p>=1.3?'*':'';

/* ---------- Panel A ---------- */
grids.push({left:heat.left,top:heat.top,width:heat.width,height:heat.height});
xAxes.push({gridIndex:0,type:'category',data:tumours,axisLine:{show:false},axisTick:{show:false},splitLine:{show:false},
  axisLabel:{interval:0,rotate:90,margin:6,fontSize:20,fontFamily:FONT,color:'#1c1c1c',hideOverlap:false}});
yAxes.push({gridIndex:0,type:'category',data:genes,inverse:true,position:'right',axisLine:{show:false},axisTick:{show:false},splitLine:{show:false},
  axisLabel:{interval:0,margin:6,fontSize:21,fontFamily:FONT,color:'#1c1c1c',hideOverlap:false,padding:[3,0,0,0]}});
const heatData=[];
rhoRows.forEach((row,r)=>row.forEach((v,c)=>heatData.push([c,r,v,logPRows[r][c]||0])));
series.push({type:'custom',xAxisIndex:0,yAxisIndex:0,data:heatData,encode:{x:0,y:1},silent:true,clip:false,z:2,
  renderItem(params,api){
    const c=api.coord([api.value(0),api.value(1)]),s=api.size([1,1]);
    const x0=c[0]-s[0]/2,y0=c[1]-s[1]/2,x1=x0+s[0],y1=y0+s[1];
    const rho=api.value(2),p=api.value(3),star=starsFor(p);
    const ch=[
      {type:'polygon',shape:{points:[[x0,y0],[x0,y1],[x1,y1]]},style:{fill:ramp(rhoStops,rho)}},
      {type:'polygon',shape:{points:[[x0,y0],[x1,y0],[x1,y1]]},style:{fill:ramp(pStops,p)}},
      {type:'line',shape:{x1:x0,y1:y0,x2:x1,y2:y1},style:{stroke:'#c9c9c9',lineWidth:1.2}},
      {type:'rect',shape:{x:x0,y:y0,width:s[0],height:s[1]},style:{fill:null,stroke:'#d8d8d8',lineWidth:1.5}}
    ];
    if(star)ch.push({type:'text',style:{text:star,x:x1-0.5,y:y0-3,align:'right',verticalAlign:'top',font:'20px '+FONT,fill:'#222'}});
    return {type:'group',children:ch};
  }});

/* ---------- Panel B ---------- */
const levelColors=['#24389f','#1f8cc9','#35b36c','#f2e43b','#e2271a'];
const levelEdges=['#2a46ab','#1f9fc9','#52bb6a','#c7d94a','#f58a1f'];
const minorTicks=[];
[1,2,3,4,5].forEach(d=>[1,2,3,4,5,6,7,8,9].forEach(k=>minorTicks.push(d+Math.log10(k))));
function bLabel(zero,neg){
  return v=>{
    if(Math.abs(v-zero)<1e-6)return '{b|0}';
    if(neg!==null&&Math.abs(v-neg)<1e-6)return '{b|-10}{s|2}';
    return '{b|10}{s|'+Math.round(v)+'}';
  };
}
const bRich={b:{fontSize:15,color:'#444',fontFamily:FONT},s:{fontSize:9,color:'#444',fontFamily:FONT,verticalAlign:'top',padding:[0,0,6,0]}};
bBoxes.forEach((b,i)=>{
  const g=grids.length,w=b[1]-b[0],h=b[3]-b[2];
  const kind=i<6?0:1;
  grids.push({left:b[0],top:b[2],width:w,height:h});
  const xLabels=[2,3,4,5,bXZero[i]];if(bXNeg[i]!==null)xLabels.push(bXNeg[i]);
  const yLabels=[2,3,4,5,bYZero[i]];if(bYNeg[i]!==null)yLabels.push(bYNeg[i]);
  const xMin=bXMin[i],xMax=xMin+w/38.3,yMax=bYMax[i],yMin=yMax-h/46;
  xAxes.push({gridIndex:g,type:'value',min:xMin,max:xMax,name:bXTitle[kind],nameLocation:'middle',nameGap:29,
    nameTextStyle:{fontSize:14.5,color:'#444',fontFamily:FONT,verticalAlign:'top'},
    axisLine:{onZero:false,lineStyle:{color:'#b5b5b5',width:1}},splitLine:{show:false},
    axisTick:{inside:true,length:3,customValues:minorTicks.filter(v=>v>=xMin&&v<=xMax),lineStyle:{color:'#bdbdbd'}},
    axisLabel:{customValues:xLabels,margin:5,formatter:bLabel(bXZero[i],bXNeg[i]),rich:bRich,hideOverlap:false}});
  yAxes.push({gridIndex:g,type:'value',min:yMin,max:yMax,name:bYTitle[kind],nameLocation:'middle',nameGap:30,
    nameTextStyle:{fontSize:14.5,color:'#444',fontFamily:FONT,verticalAlign:'bottom'},
    axisLine:{onZero:false,lineStyle:{color:'#b5b5b5',width:1}},splitLine:{show:false},
    axisTick:{inside:true,length:3,customValues:minorTicks.filter(v=>v>=yMin&&v<=yMax),lineStyle:{color:'#bdbdbd'}},
    axisLabel:{customValues:yLabels,margin:2,formatter:bLabel(bYZero[i],bYNeg[i]),rich:bRich,hideOverlap:false}});
  const gray=[0,6,7,9,10,11].includes(i);
  series.push({type:'scatter',xAxisIndex:g,yAxisIndex:g,data:dotsByPanel[i],symbolSize:2,silent:true,z:2,
    itemStyle:{color:gray?'#6f6f6f':'#4a57ad'}});
  const blobs=blobsByPanel[i];
  series.push({type:'custom',xAxisIndex:g,yAxisIndex:g,silent:true,z:3,data:blobs.map((_,k)=>[k]),encode:{x:-1,y:-1},
    renderItem(params,api){
      const bl=blobs[api.value(0)],pts=[];
      for(let k=0;k<bl[1].length;k+=2)pts.push(api.coord([bl[1][k],bl[1][k+1]]));
      return {type:'polygon',shape:{points:pts,smooth:0.25},style:{fill:levelColors[bl[0]],stroke:levelEdges[bl[0]],lineWidth:bl[0]===0?0:2.5}};
    }});
  if(i===4||i===5){
    series.push({type:'scatter',xAxisIndex:g,yAxisIndex:g,data:i===4?islandsP5:islandsP6,symbol:'rect',symbolSize:6,silent:true,z:3,itemStyle:{color:'#24389f'}});
  }
  // gate box or quadrant lines and the percentage labels
  const labels=percentLabels[i];
  series.push({type:'custom',xAxisIndex:g,yAxisIndex:g,silent:true,clip:false,z:4,data:labels.map((_,k)=>[k]),encode:{x:-1,y:-1},
    renderItem(params,api){
      const k=api.value(0),L=labels[k],p=api.coord([L[0],L[1]]),ch=[];
      ch.push({type:'text',style:{text:L[2],x:p[0],y:p[1],align:'center',verticalAlign:'middle',font:'bold 18.5px '+FONT,fill:'#111'}});
      if(k===0){
        if(i<6){
          const G=gateBoxes[i],a=api.coord([G[0],G[3]]),d=api.coord([G[1],G[2]]);
          ch.unshift({type:'rect',shape:{x:a[0],y:a[1],width:d[0]-a[0],height:d[1]-a[1]},style:{fill:null,stroke:'#333',lineWidth:1.4}});
        }else{
          const Q=quadrantCross[i-6],m=api.coord([Q[0],Q[1]]);
          ch.unshift({type:'line',shape:{x1:m[0],y1:b[2],x2:m[0],y2:b[3]},style:{stroke:'#333',lineWidth:1.2}});
          ch.unshift({type:'line',shape:{x1:b[0],y1:m[1],x2:b[1],y2:m[1]},style:{stroke:'#333',lineWidth:1.2}});
        }
      }
      return {type:'group',children:ch};
    }});
});

/* ---------- Panel C ---------- */
markerNames.forEach((m,i)=>{
  const g=grids.length,w=cEndX[i]-cAxisX[i],h=cBottom[i]-cTop[i],sp=cTickHigh[i]-cTickLow[i];
  grids.push({left:cAxisX[i],top:cTop[i],width:w,height:h});
  const xMin=1-(cTickLow[i]-cAxisX[i])/sp,xMax=2+(cEndX[i]-cTickHigh[i])/sp;
  xAxes.push({gridIndex:g,type:'value',min:xMin,max:xMax,splitLine:{show:false},
    axisLine:{onZero:false,lineStyle:{color:'#1a1a1a',width:2}},
    axisTick:{customValues:[1,2],length:5,lineStyle:{color:'#1a1a1a',width:2}},
    axisLabel:{customValues:[1-5/sp,2+7/sp],margin:8,fontSize:12,fontWeight:'bold',fontFamily:FONT,color:'#1a1a1a',hideOverlap:false,
      formatter:v=>v<1.5?'Low HO1':'High HO1'}});
  yAxes.push({gridIndex:g,type:'value',min:0,max:axisMaxima[i],interval:axisSteps[i],splitLine:{show:false},
    name:'The expression of '+m+'(%)',nameLocation:'middle',nameGap:cNameGap[i],
    nameTextStyle:{fontSize:cNameSize[i],fontWeight:'bold',fontFamily:FONT,color:'#1a1a1a',verticalAlign:'bottom'},
    axisLine:{onZero:false,lineStyle:{color:'#1a1a1a',width:2}},
    axisTick:{length:5,lineStyle:{color:'#1a1a1a',width:2}},
    axisLabel:{margin:3,fontSize:13,fontWeight:'bold',fontFamily:FONT,color:'#1a1a1a',formatter:v=>v.toFixed(axisDigits[i])}});
  series.push({type:'bar',xAxisIndex:g,yAxisIndex:g,barWidth:32,silent:true,z:2,
    data:[{value:[1,lowMeans[i]],itemStyle:{color:'#dedede'}},{value:[2,highMeans[i]],itemStyle:{color:'#a5563f'}}]});
  series.push({type:'custom',xAxisIndex:g,yAxisIndex:g,silent:true,clip:false,z:3,
    data:[[1,lowMeans[i],lowTops[i]],[2,highMeans[i],highTops[i]]],encode:{x:0,y:2},
    renderItem(params,api){
      const a=api.coord([api.value(0),api.value(1)]),t=api.coord([api.value(0),api.value(2)]);
      return {type:'group',children:[
        {type:'line',shape:{x1:a[0],y1:a[1],x2:t[0],y2:t[1]},style:{stroke:'#1a1a1a',lineWidth:1.6}},
        {type:'line',shape:{x1:t[0]-8,y1:t[1],x2:t[0]+8,y2:t[1]},style:{stroke:'#1a1a1a',lineWidth:1.6}}]};
    }});
  series.push({type:'custom',xAxisIndex:g,yAxisIndex:g,silent:true,clip:false,z:3,data:[[1,2,bracketLevels[i]]],encode:{x:0,y:2},
    renderItem(params,api){
      const a=api.coord([api.value(0),api.value(2)]),b=api.coord([api.value(1),api.value(2)]);
      const S={stroke:'#1a1a1a',lineWidth:1.6};
      return {type:'group',children:[
        {type:'line',shape:{x1:a[0],y1:a[1],x2:b[0],y2:b[1]},style:S},
        {type:'line',shape:{x1:a[0],y1:a[1]-5,x2:a[0],y2:a[1]+5},style:S},
        {type:'line',shape:{x1:b[0],y1:b[1]-5,x2:b[0],y2:b[1]+5},style:S},
        {type:'text',style:{text:significance[i],x:(a[0]+b[0])/2,y:a[1]-(significance[i]==='*'?9:11),align:'center',verticalAlign:'middle',font:'bold 15px '+FONT,fill:'#1a1a1a'}}]};
    }});
});

/* ---------- Annotations ---------- */
const txt=(t,x,y,font,o)=>graphics.push(Object.assign({type:'text',x,y,silent:true,style:{text:t,font:font+' '+FONT,fill:'#111',align:'center',verticalAlign:'middle'}},o||{}));
const ln=(x1,y1,x2,y2,c,w)=>graphics.push({type:'line',silent:true,shape:{x1,y1,x2,y2},style:{stroke:c,lineWidth:w}});
const tri=(pts)=>graphics.push({type:'polygon',silent:true,shape:{points:pts},style:{fill:'#111'}});
txt('A',14,16,'bold 32px');txt('B',1103,16,'bold 32px');txt('C',13,1180,'bold 32px');
// purple bracket
graphics.push({type:'polyline',silent:true,z:5,shape:{points:[[404.5,35],[404.5,9.5],[1041,9.5],[1041,1023]]},style:{stroke:'#39298f',lineWidth:3,fill:null}});
// red row markers
const rowH=heat.height/genes.length;
highlightedRowEdges.forEach(n=>{const y=heat.top+n*rowH-1;graphics.push({type:'line',silent:true,z:5,shape:{x1:923,y1:y,x2:1039,y2:y},style:{stroke:'#d8261c',lineWidth:3}});});
graphics.push({type:'rect',silent:true,z:5,shape:{x:394,y:1021,width:26,height:58},style:{fill:null,stroke:'#d8261c',lineWidth:3}});
// legends
const gradStops=(stops,a,b)=>stops.map(s=>({offset:(s[0]-a)/(b-a),color:s[1]}));
graphics.push({type:'rect',silent:true,shape:{x:304,y:1122,width:253,height:21},style:{fill:{type:'linear',x:0,y:0,x2:1,y2:0,colorStops:gradStops(rhoStops,-55,56)}}});
graphics.push({type:'rect',silent:true,shape:{x:577,y:1122,width:214,height:21},style:{fill:{type:'linear',x:0,y:0,x2:1,y2:0,colorStops:gradStops(pStops,4.7,16.4)}}});
const rhoX=v=>430+v/0.54*123.5, pX=v=>579+(v-5)/11*207;
rhoTicks.forEach(v=>{const x=rhoX(v);ln(x,1122,x,1127,'#fff',1.5);ln(x,1138,x,1143,'#fff',1.5);txt(v===0?'0':String(v).replace('-','\u2212'),x,1154,'17px');});
pTicks.forEach(v=>{const x=pX(v);ln(x,1122,x,1127,'#fff',1.5);ln(x,1138,x,1143,'#fff',1.5);txt(String(v),x,1154,'17px');});
txt("Pearson's rho",362,1109,'bold 17.5px');txt('\u2212log10(p value)',640,1110,'bold 17.5px');
// B: arrows, side bars, captions
ln(1145.5,352,1145.5,45,'#111',3);tri([[1145.5,27],[1135.5,50],[1155.5,50]]);
ln(1144.5,892,1144.5,626,'#111',3);tri([[1144.5,608],[1134.5,631],[1154.5,631]]);
txt('CD48 APC',1144,413,'bold 24px',{rotation:Math.PI/2});
txt('2B4 APC-Cy7',1144,994,'bold 24px',{rotation:Math.PI/2});
ln(1353,551,1810,551,'#111',3.5);tri([[1833,551],[1807,542],[1807,560]]);
ln(1353,1145,1808,1145,'#111',3.5);tri([[1831,1145],[1805,1136],[1805,1154]]);
txt('CD45 PE-Cy7',1262,552,'bold 24px');txt('CD16+56PE',1270,1145,'bold 24px');
ln(1840.5,35,1840.5,200,'#111',3);ln(1839,296,1839,462,'#111',3);ln(1840,620,1840,787,'#111',3);ln(1840,892,1840,1060,'#111',3);
txt('Low HO1',1903,121,'bold 24px');txt('High HO1',1905,385,'bold 24px');
txt('Low HO1',1905,708,'bold 24px');txt('High HO1',1905,984,'bold 24px');
// small gate icons
iconCentres.forEach(c=>{
  const [x,y]=c;
  graphics.push({type:'rect',silent:true,shape:{x:x-11,y:y-8,width:22,height:16},style:{fill:null,stroke:'#666',lineWidth:2}});
  [[-15,-12,1,1],[15,-12,-1,1],[-15,12,1,-1],[15,12,-1,-1]].forEach(q=>{
    graphics.push({type:'polyline',silent:true,shape:{points:[[x+q[0]+q[2]*3,y+q[1]],[x+q[0],y+q[1]],[x+q[0],y+q[1]+q[3]*3]]},style:{stroke:'#777',lineWidth:1,fill:null}});
  });
});

const chart=echarts.init(document.getElementById('c'),null,{renderer:'canvas',width:1960,height:1403});
chart.setOption({animation:false,backgroundColor:'#fff',textStyle:{fontFamily:FONT},grid:grids,xAxis:xAxes,yAxis:yAxes,series,graphic:{elements:graphics}});
</script></body></html>
